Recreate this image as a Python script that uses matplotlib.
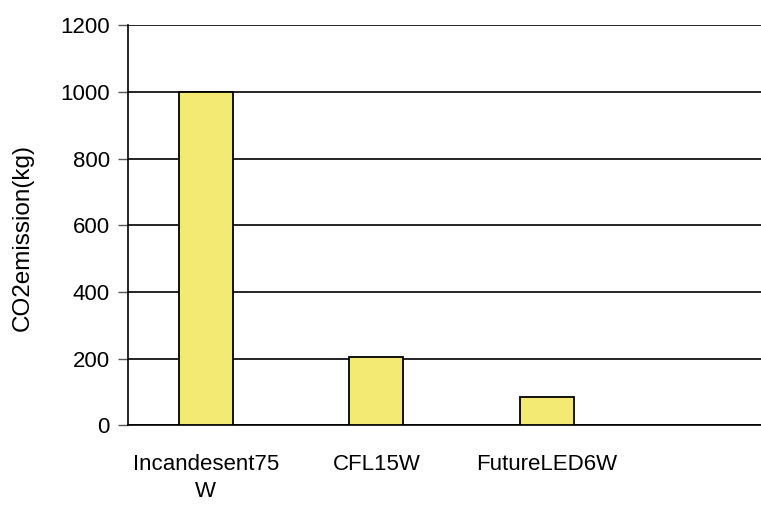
import matplotlib.pyplot as plt
import numpy as np

plt.rcParams['font.family'] = ['Liberation Sans', 'DejaVu Sans']

# data
categories = ['Incandesent75\nW', 'CFL15W', 'FutureLED6W']
co2 = [1000, 205, 85]
yticks = [0, 200, 400, 600, 800, 1000, 1200]

fig = plt.figure(figsize=(7.61, 5.05), dpi=100)
ax = fig.add_axes([0.168, 0.158, 0.832, 0.792])

x = np.arange(len(categories))
ax.bar(x, co2, width=0.317, color='#F2EA72', edgecolor='black', linewidth=1.3, zorder=3)

ax.set_xlim(-0.457, 3.255)
ax.set_ylim(0, 1200)
ax.set_yticks(yticks)
ax.yaxis.grid(True, color='black', linewidth=1.2, zorder=0)
ax.set_axisbelow(True)

ax.set_xticks(x)
ax.set_xticklabels(categories, fontsize=16, linespacing=1.35)
ax.tick_params(axis='x', length=0, pad=21)
ax.tick_params(axis='y', labelsize=16, length=7, width=1, color='#555555', pad=6)

for s in ['top', 'right']:
    ax.spines[s].set_visible(False)
ax.spines['left'].set_linewidth(1.2)
ax.spines['bottom'].set_linewidth(1.2)

ax.set_ylabel('CO2emission(kg)', fontsize=17.5)
ax.yaxis.set_label_coords(-0.148, 0.47)

fig.savefig('out.png', dpi=100)
